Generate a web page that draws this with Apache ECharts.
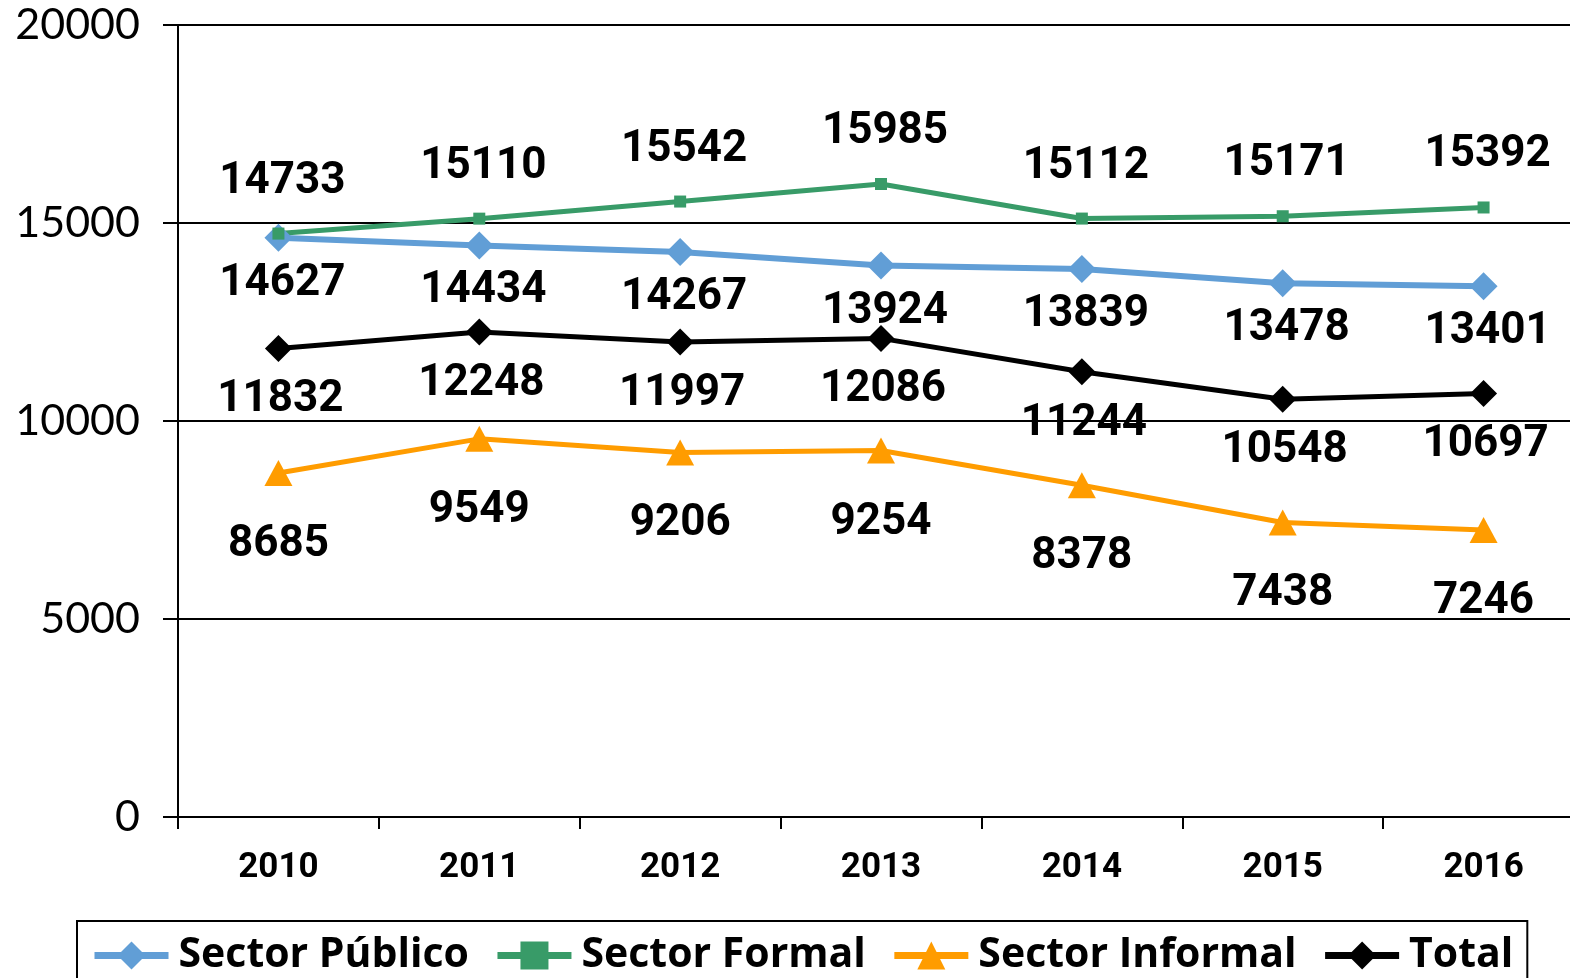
<!DOCTYPE html>
<html>
<head>
<meta charset="utf-8">
<script src="https://cdn.jsdelivr.net/npm/echarts@6/dist/echarts.min.js"></script>
<style>
  html, body { margin: 0; padding: 0; background: #fff; overflow: hidden; }
  #chart { width: 1584px; height: 978px; }
</style>
</head>
<body>
<div id="chart"></div>
<script>
// 年份
let years = ['2010', '2011', '2012', '2013', '2014', '2015', '2016'];
// 各系列数据
let sectorPublico = [14627, 14434, 14267, 13924, 13839, 13478, 13401];
let sectorFormal = [14733, 15110, 15542, 15985, 15112, 15171, 15392];
let sectorInformal = [8685, 9549, 9206, 9254, 8378, 7438, 7246];
let total = [11832, 12248, 11997, 12086, 11244, 10548, 10697];
let yTicks = [0, 5000, 10000, 15000, 20000];

let chart = echarts.init(document.getElementById('chart'), null, { renderer: 'canvas' });

// 数据标签的共性
let label_base = {
    show: true,
    position: 'inside',
    fontFamily: 'Roboto',
    fontWeight: 'bold',
    fontSize: 44,
    color: '#000'
};

let seri_line = {
    type: 'line',
    smooth: false,
    z: 3
};

chart.setOption({
    animation: false,
    backgroundColor: '#fff',
    grid: {
        left: 178,
        top: 25,
        right: 0,
        bottom: 161
    },
    legend: {
        left: 77,
        top: 921,
        padding: [14, 14, 40, 14],
        itemGap: 25,
        itemWidth: 74,
        itemHeight: 35,
        borderColor: '#000',
        borderWidth: 2,
        lineStyle: { width: 7 },
        textStyle: {
            fontFamily: 'Open Sans',
            fontWeight: 'bold',
            fontSize: 41,
            color: '#000',
            padding: [0, 0, 0, 5]
        }
    },
    xAxis: {
        type: 'category',
        data: years,
        boundaryGap: true,
        axisLine: { lineStyle: { color: '#000', width: 2 } },
        axisTick: { show: true, length: 12, lineStyle: { color: '#000', width: 2 } },
        axisLabel: {
            margin: 34,
            fontFamily: 'Roboto',
            fontWeight: 'bold',
            fontSize: 35,
            color: '#000'
        }
    },
    yAxis: {
        type: 'value',
        min: yTicks[0],
        max: yTicks[yTicks.length - 1],
        interval: 5000,
        axisLine: { show: true, lineStyle: { color: '#000', width: 2 } },
        axisTick: { show: true, length: 15, lineStyle: { color: '#000', width: 2 } },
        splitLine: { lineStyle: { color: '#000', width: 1.8 } },
        axisLabel: {
            margin: 38,
            fontFamily: 'Lato',
            fontSize: 43,
            color: '#000',
            formatter: v => String(v)
        }
    },
    series: [
        {
            name: 'Sector Público',
            data: sectorPublico,
            symbol: 'diamond',
            symbolSize: 28,
            lineStyle: { width: 6, color: '#619ED6' },
            itemStyle: { color: '#619ED6' },
            label: { offset: [4, 46] }
        },
        {
            name: 'Sector Formal',
            data: sectorFormal,
            symbol: 'rect',
            symbolSize: 12,
            lineStyle: { width: 5, color: '#389B68' },
            itemStyle: { color: '#389B68' },
            label: { offset: [4, -52] }
        },
        {
            name: 'Sector Informal',
            data: sectorInformal,
            symbol: 'triangle',
            symbolSize: [28, 26],
            lineStyle: { width: 5, color: '#FF9C00' },
            itemStyle: { color: '#FF9C00' },
            label: { offset: [0, 72] }
        },
        {
            name: 'Total',
            data: total,
            symbol: 'diamond',
            symbolSize: 27,
            lineStyle: { width: 5, color: '#000' },
            itemStyle: { color: '#000' },
            label: { offset: [2, 52] }
        }
    ].map(item => Object.assign({}, seri_line, item, {
        label: Object.assign({}, label_base, item.label)
    }))
});
</script>
</body>
</html>
